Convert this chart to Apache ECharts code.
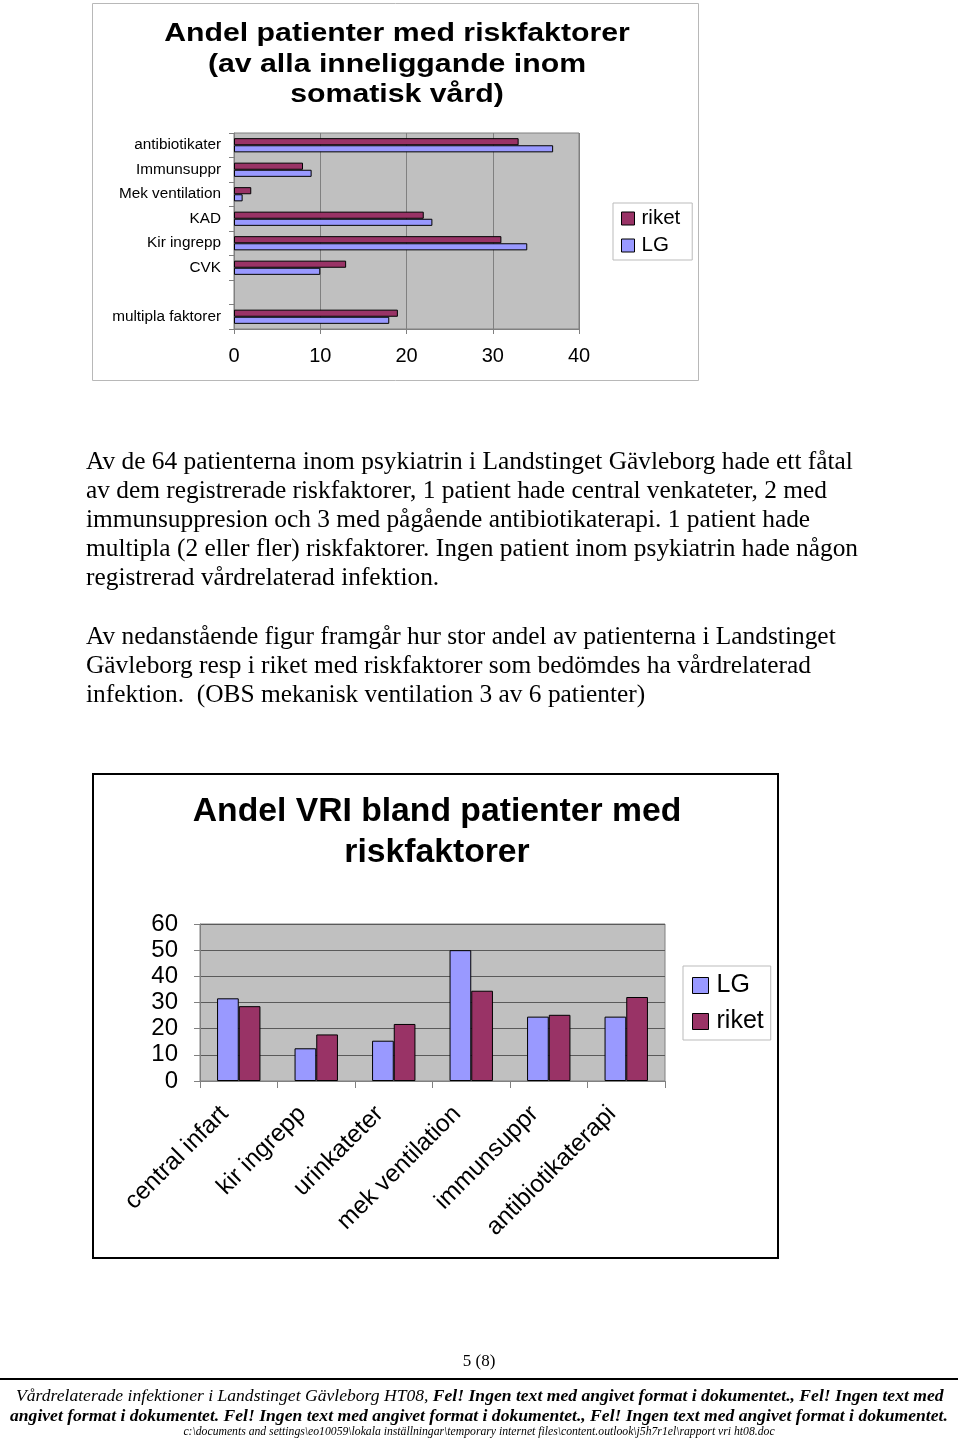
<!DOCTYPE html>
<html>
<head>
<meta charset="utf-8">
<script src="https://cdn.jsdelivr.net/npm/echarts@6/dist/echarts.min.js"></script>
<style>
html,body{margin:0;padding:0;background:#fff;}
#page{width:960px;height:1440px;}
</style>
</head>
<body>
<div id="page"></div>
<script>
// ---- Chart 1 data ----
const cat1 = ['antibiotikater', 'Immunsuppr', 'Mek ventilation', 'KAD', 'Kir ingrepp', 'CVK', '', 'multipla faktorer'];
const riket1 = [33, 8, 2, 22, 31, 13, null, 19];
const lg1 = [37, 9, 1, 23, 34, 10, null, 18];
const title1 = ['Andel patienter med riskfaktorer', '(av alla inneliggande inom', 'somatisk vård)'];

// ---- Chart 2 data ----
const cat2 = ['central infart', 'kir ingrepp', 'urinkateter', 'mek ventilation', 'immunsuppr', 'antibiotikaterapi'];
const lg2 = [31.6, 12.5, 15.4, 50, 24.6, 24.6];
const riket2 = [28.6, 17.8, 21.8, 34.5, 25.3, 32.1];
const title2 = ['Andel VRI bland patienter med', 'riskfaktorer'];

// ---- Text ----
const para1 = [
  'Av de 64 patienterna inom psykiatrin i Landstinget Gävleborg hade ett fåtal',
  'av dem registrerade riskfaktorer, 1 patient hade central venkateter, 2 med',
  'immunsuppresion och 3 med pågående antibiotikaterapi. 1 patient hade',
  'multipla (2 eller fler) riskfaktorer. Ingen patient inom psykiatrin hade någon',
  'registrerad vårdrelaterad infektion.'
];
const para2 = [
  'Av nedanstående figur framgår hur stor andel av patienterna i Landstinget',
  'Gävleborg resp i riket med riskfaktorer som bedömdes ha vårdrelaterad',
  'infektion.  (OBS mekanisk ventilation 3 av 6 patienter)'
];
const pageNo = '5 (8)';
const footA = 'Vårdrelaterade infektioner i Landstinget Gävleborg HT08, ';
const footB = 'Fel! Ingen text med angivet format i dokumentet., Fel! Ingen text med';
const footC = 'angivet format i dokumentet. Fel! Ingen text med angivet format i dokumentet., Fel! Ingen text med angivet format i dokumentet.';
const footPath = 'c:\\documents and settings\\eo10059\\lokala inställningar\\temporary internet files\\content.outlook\\j5h7r1el\\rapport vri ht08.doc';

const RIKET = '#993366', LG = '#9999FF';
const SANS = '"Liberation Sans", Arial, sans-serif';
const SERIF = '"Liberation Serif", "Times New Roman", serif';

const chart = echarts.init(document.getElementById('page'), null, {renderer: 'canvas'});

const graphics = [];
// chart 1 frame
graphics.push({type: 'rect', shape: {x: 92.5, y: 3.5, width: 606, height: 377}, style: {fill: 'none', stroke: '#b8b8b8', lineWidth: 1}, z: -1});
title1.forEach((t, i) => graphics.push({type: 'text', x: 397, y: 34.5 + i * 30.5, scaleX: 1.21, style: {text: t, font: 'bold 25px ' + SANS, textAlign: 'center', textVerticalAlign: 'middle', fill: '#000'}}));
// chart 2 frame
graphics.push({type: 'rect', shape: {x: 93, y: 774, width: 685, height: 484}, style: {fill: 'none', stroke: '#000', lineWidth: 2}, z: -1});
title2.forEach((t, i) => graphics.push({type: 'text', x: 437, y: 812 + i * 41, style: {text: t, font: 'bold 33.7px ' + SANS, textAlign: 'center', textVerticalAlign: 'middle', fill: '#000'}}));
// paragraphs
para1.forEach((t, i) => graphics.push({type: 'text', x: 86, y: 462 + i * 29, style: {text: t, font: '25.4px ' + SERIF, textVerticalAlign: 'middle', fill: '#000'}}));
para2.forEach((t, i) => graphics.push({type: 'text', x: 86, y: 637 + i * 29, style: {text: t, font: '25.4px ' + SERIF, textVerticalAlign: 'middle', fill: '#000'}}));
// footer
graphics.push({type: 'text', x: 479, y: 1362, style: {text: pageNo, font: '17px ' + SERIF, textAlign: 'center', textVerticalAlign: 'middle', fill: '#000'}});
graphics.push({type: 'line', shape: {x1: 0, y1: 1379, x2: 958, y2: 1379}, style: {stroke: '#000', lineWidth: 2}});
graphics.push({type: 'text', x: 16, y: 1396, style: {
  text: '{a|' + footA + '}{b|' + footB + '}',
  textVerticalAlign: 'middle',
  rich: {a: {font: 'italic 17.6px ' + SERIF, fill: '#000'}, b: {font: 'italic bold 17.6px ' + SERIF, fill: '#000'}}
}});
graphics.push({type: 'text', x: 10, y: 1416, style: {text: footC, font: 'italic bold 17.6px ' + SERIF, textVerticalAlign: 'middle', fill: '#000'}});
graphics.push({type: 'text', x: 479, y: 1432, style: {text: footPath, font: 'italic 11.7px ' + SERIF, textAlign: 'center', textVerticalAlign: 'middle', fill: '#000'}});

const option = {
  animation: false,
  backgroundColor: '#fff',
  textStyle: {fontFamily: SANS},
  grid: [
    {left: 234, top: 133, width: 345, height: 196, show: true, backgroundColor: '#c0c0c0', borderColor: '#808080', borderWidth: 1, containLabel: false},
    {left: 200, top: 924, width: 465, height: 157, show: true, backgroundColor: '#c0c0c0', borderColor: '#808080', borderWidth: 1, containLabel: false}
  ],
  xAxis: [
    {gridIndex: 0, type: 'value', min: 0, max: 40, interval: 10,
     axisLine: {show: true, lineStyle: {color: '#808080'}},
     axisTick: {show: true, length: 5, lineStyle: {color: '#808080'}},
     axisLabel: {fontSize: 20, color: '#000', margin: 17, fontFamily: SANS},
     splitLine: {show: true, lineStyle: {color: '#808080', width: 1}}},
    {gridIndex: 1, type: 'category', data: cat2,
     axisLine: {show: true, lineStyle: {color: '#808080'}},
     axisTick: {show: true, length: 7, alignWithLabel: false, lineStyle: {color: '#808080'}},
     axisLabel: {fontSize: 24.5, color: '#000', rotate: 45, margin: 15, interval: 0, padding: [0, 20, 0, 0], fontFamily: SANS},
     splitLine: {show: false}}
  ],
  yAxis: [
    {gridIndex: 0, type: 'category', data: cat1, inverse: true,
     axisLine: {show: true, lineStyle: {color: '#808080'}},
     axisTick: {show: true, length: 5, lineStyle: {color: '#808080'}},
     axisLabel: {fontSize: 15.3, color: '#000', margin: 13, interval: 0, fontFamily: SANS},
     splitLine: {show: false}},
    {gridIndex: 1, type: 'value', min: 0, max: 60, interval: 10,
     axisLine: {show: true, lineStyle: {color: '#808080'}},
     axisTick: {show: true, length: 6, lineStyle: {color: '#808080'}},
     axisLabel: {fontSize: 24, color: '#000', margin: 22, fontFamily: SANS},
     splitLine: {show: true, lineStyle: {color: '#5a5a5a', width: 1}}}
  ],
  legend: [
    {data: ['riket', 'LG'], orient: 'vertical', left: 613, top: 203,
     backgroundColor: '#fff', borderColor: '#bbb', borderWidth: 1, padding: [5, 12, 4, 8], itemGap: 6,
     icon: 'rect', itemWidth: 13, itemHeight: 13, itemStyle: {borderColor: '#000', borderWidth: 1},
     textStyle: {fontSize: 20.5, color: '#000', fontFamily: SANS, padding: [0, 0, 0, 2]}, selectedMode: false},
    {data: ['LG', 'riket'], orient: 'vertical', left: 683, top: 966,
     backgroundColor: '#fff', borderColor: '#bbb', borderWidth: 1, padding: [7, 7, 6, 9], itemGap: 11,
     icon: 'rect', itemWidth: 16, itemHeight: 16, itemStyle: {borderColor: '#000', borderWidth: 1},
     textStyle: {fontSize: 25, color: '#000', fontFamily: SANS, padding: [0, 0, 0, 3]}, selectedMode: false}
  ],
  series: [
    {name: 'riket', type: 'bar', xAxisIndex: 0, yAxisIndex: 0, data: riket1, barGap: '0%', barCategoryGap: '42%',
     itemStyle: {color: RIKET, borderColor: '#000', borderWidth: 1}},
    {name: 'LG', type: 'bar', xAxisIndex: 0, yAxisIndex: 0, data: lg1,
     itemStyle: {color: LG, borderColor: '#000', borderWidth: 1}},
    {name: 'LG', type: 'bar', xAxisIndex: 1, yAxisIndex: 1, data: lg2, barGap: '0%', barCategoryGap: '44%',
     itemStyle: {color: LG, borderColor: '#000', borderWidth: 1}},
    {name: 'riket', type: 'bar', xAxisIndex: 1, yAxisIndex: 1, data: riket2,
     itemStyle: {color: RIKET, borderColor: '#000', borderWidth: 1}}
  ],
  graphic: graphics
};
chart.setOption(option);
</script>
</body>
</html>
